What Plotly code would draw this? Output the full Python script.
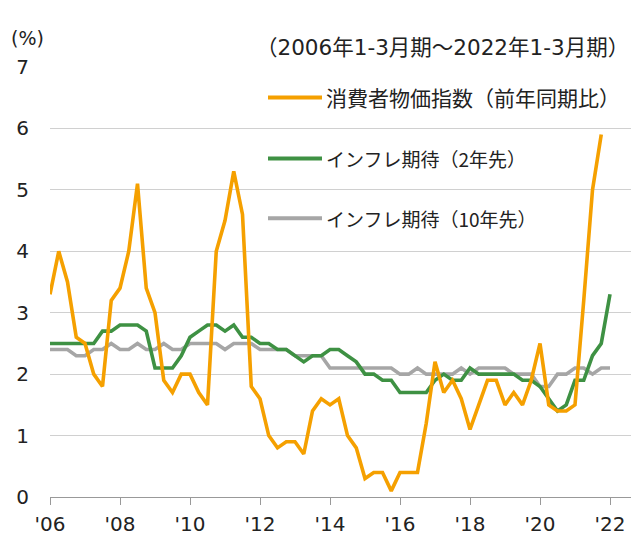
import plotly.graph_objects as go

# Quarterly data, 2006 Q1 onward
start_year = 2006
cpi = [3.3, 4.0, 3.5, 2.6, 2.5, 2.0, 1.8, 3.2,
       3.4, 4.0, 5.1, 3.4, 3.0, 1.9, 1.7, 2.0,
       2.0, 1.7, 1.5, 4.0, 4.5, 5.3, 4.6, 1.8,
       1.6, 1.0, 0.8, 0.9, 0.9, 0.7, 1.4, 1.6,
       1.5, 1.6, 1.0, 0.8, 0.3, 0.4, 0.4, 0.1,
       0.4, 0.4, 0.4, 1.2, 2.2, 1.7, 1.9, 1.6,
       1.1, 1.5, 1.9, 1.9, 1.5, 1.7, 1.5, 1.9,
       2.5, 1.5, 1.4, 1.4, 1.5, 3.2, 5.0, 5.9]
exp2 = [2.5, 2.5, 2.5, 2.5, 2.5, 2.5, 2.7, 2.7,
        2.8, 2.8, 2.8, 2.7, 2.1, 2.1, 2.1, 2.3,
        2.6, 2.7, 2.8, 2.8, 2.7, 2.8, 2.6, 2.6,
        2.5, 2.5, 2.4, 2.4, 2.3, 2.2, 2.3, 2.3,
        2.4, 2.4, 2.3, 2.2, 2.0, 2.0, 1.9, 1.9,
        1.7, 1.7, 1.7, 1.7, 1.9, 2.0, 1.9, 1.9,
        2.1, 2.0, 2.0, 2.0, 2.0, 2.0, 1.9, 1.9,
        1.8, 1.6, 1.4, 1.5, 1.9, 1.9, 2.3, 2.5,
        3.3]
exp10 = [2.4, 2.4, 2.4, 2.3, 2.3, 2.4, 2.4, 2.5,
         2.4, 2.4, 2.5, 2.4, 2.4, 2.5, 2.4, 2.4,
         2.5, 2.5, 2.5, 2.5, 2.4, 2.5, 2.5, 2.5,
         2.4, 2.4, 2.4, 2.4, 2.3, 2.3, 2.3, 2.3,
         2.1, 2.1, 2.1, 2.1, 2.1, 2.1, 2.1, 2.1,
         2.0, 2.0, 2.1, 2.0, 2.0, 2.0, 2.0, 2.1,
         2.0, 2.1, 2.1, 2.1, 2.1, 2.0, 2.0, 2.0,
         1.8, 1.8, 2.0, 2.0, 2.1, 2.1, 2.0, 2.1,
         2.1]
tick_years = [2006, 2008, 2010, 2012, 2014, 2016, 2018, 2020, 2022]
tick_labels = ["'06", "'08", "'10", "'12", "'14", "'16", "'18", "'20", "'22"]
y_ticks = [0, 1, 2, 3, 4, 5, 6, 7]

names = ["消費者物価指数（前年同期比）", "インフレ期待（2年先）", "インフレ期待（10年先）"]
colors = ["#F5A000", "#3E9143", "#A6A6A6"]

def qx(n):
    return [start_year + i / 4 for i in range(n)]

FONT = "DejaVu Sans, Noto Sans CJK JP, sans-serif"
JFONT = "Noto Sans CJK JP, DejaVu Sans, sans-serif"

fig = go.Figure()
fig.add_trace(go.Scatter(x=qx(len(exp10)), y=exp10, mode="lines", name=names[2],
                         line=dict(color=colors[2], width=3.6)))
fig.add_trace(go.Scatter(x=qx(len(exp2)), y=exp2, mode="lines", name=names[1],
                         line=dict(color=colors[1], width=3.6)))
fig.add_trace(go.Scatter(x=qx(len(cpi)), y=cpi, mode="lines", name=names[0],
                         line=dict(color=colors[0], width=3.6)))

W, H = 631, 535
L, T, B, R = 50, 66.5, 38, 0
pw, ph = W - L - R, H - T - B

def px(xp):
    return (xp - L) / pw

def py(yp):
    return (H - B - yp) / ph

# Manual legend
leg_y = [97, 158, 218]
leg_size = [21, 19, 19]
shapes = []
annotations = []
for name, col, yy, fs in zip(names, colors, leg_y, leg_size):
    shapes.append(dict(type="line", xref="paper", yref="paper",
                       x0=px(268), x1=px(322), y0=py(yy), y1=py(yy),
                       line=dict(color=col, width=4)))
    annotations.append(dict(text=name, xref="paper", yref="paper",
                            x=px(324), y=py(yy), xanchor="left", yanchor="middle",
                            showarrow=False, font=dict(family=JFONT, size=fs, color="#222")))

annotations.append(dict(text="(%)", xref="paper", yref="paper", x=px(9), y=py(37),
                        xanchor="left", yanchor="middle", showarrow=False,
                        font=dict(family=FONT, size=19, color="#222")))
annotations.append(dict(text="（2006年1-3月期～2022年1-3月期）", xref="paper", yref="paper",
                        x=px(631), y=py(47), xanchor="right", yanchor="middle",
                        showarrow=False, font=dict(family=FONT, size=21.5, color="#222")))

fig.update_layout(
    width=W, height=H,
    margin=dict(l=L, r=R, t=T, b=B, pad=0),
    paper_bgcolor="white", plot_bgcolor="white",
    showlegend=False,
    shapes=shapes, annotations=annotations,
    xaxis=dict(range=[start_year, start_year + (W - L - R) / 8.75 / 4],
               tickmode="array", tickvals=tick_years, ticktext=tick_labels,
               ticks="outside", ticklen=7, tickcolor="#999", tickwidth=1,
               showline=True, linecolor="#999", linewidth=1,
               showgrid=False, zeroline=False, automargin=False,
               tickfont=dict(family=FONT, size=20, color="#222"),
               ticklabelstandoff=2),
    yaxis=dict(range=[0, 7], tickmode="array", tickvals=y_ticks,
               showgrid=True, gridcolor="#D0D0D0", gridwidth=1,
               zeroline=False, ticks="", automargin=False,
               tickfont=dict(family=FONT, size=20, color="#222"),
               ticklabelstandoff=20),
)

fig.write_html("out.html", config={"displayModeBar": False},
               post_script="document.body.style.margin='0';document.body.style.overflow='hidden';")
